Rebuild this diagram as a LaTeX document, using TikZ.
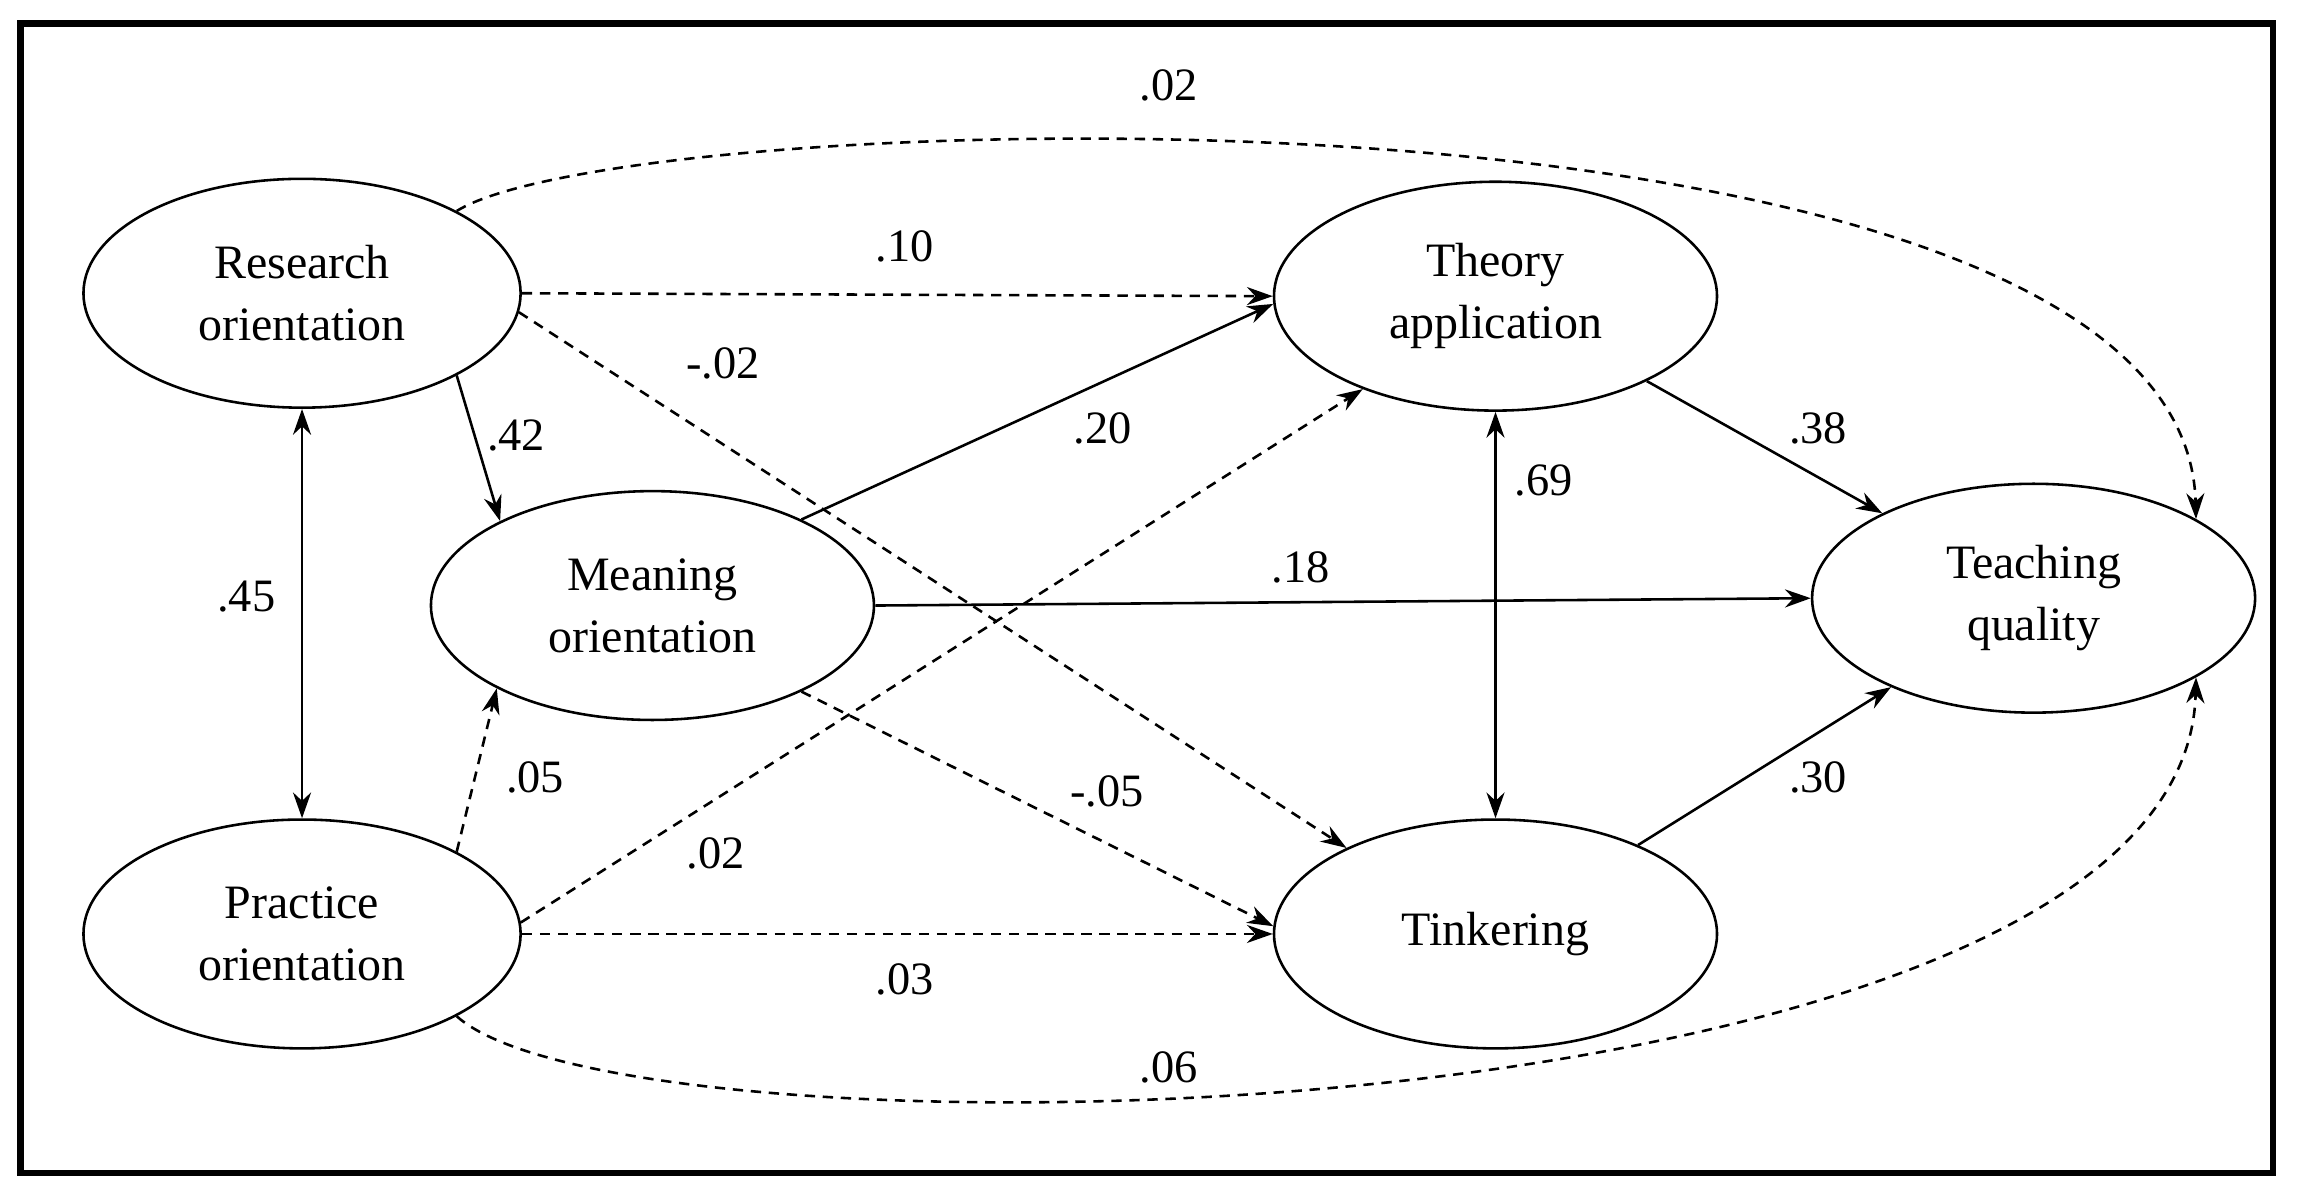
\documentclass[tikz,border=0pt]{standalone}
\usepackage{fontspec}
\setmainfont{Liberation Serif}
\usetikzlibrary{shapes.geometric,arrows.meta}
\begin{document}
\begin{tikzpicture}[x=0.01cm,y=-0.01cm,
  lat/.style={ellipse,draw,line width=0.5pt,minimum width=2.98cm,minimum height=1.56cm,inner sep=0pt,align=center,font=\fontsize{9.3}{12}\selectfont},
  ar/.style={line width=0.5pt,-{Stealth[length=5pt,width=3.5pt]}},
  dar/.style={ar,dash pattern=on 2pt off 1.5pt},
  lab/.style={font=\fontsize{9}{10}\selectfont}]
\useasboundingbox (0,0) rectangle (1568,815);
\draw[line width=1.2pt] (14,16) rectangle (1550,800);
\node[lat] (R) at (206,200) {Research\\orientation};
\node[lat] (P) at (206,637) {Practice\\orientation};
\node[lat,minimum width=3.02cm] (M) at (445,413) {Meaning\\orientation};
\node[lat,minimum width=3.02cm] (T) at (1020,202) {Theory\\application};
\node[lat,minimum width=3.02cm] (K) at (1020,637) {Tinkering};
\node[lat,minimum width=3.02cm] (Q) at (1387,408) {Teaching\\quality};
\draw[dar] (R.0) -- (T.180);
\draw[dar] (R.-5) -- (K.150);
\draw[ar] (R.-28) -- (M.151);
\draw[ar,{Stealth[length=5pt,width=3.5pt]}-{Stealth[length=5pt,width=3.5pt]}] (R) -- (P);
\draw[ar] (M.30) -- (T.182);
\draw[ar] (M.0) -- (Q.180);
\draw[dar] (M.-30) -- (K.178);
\draw[dar] (P.28) -- (M.208);
\draw[dar] (P.3) -- (T.215);
\draw[dar] (P.0) -- (K.180);
\draw[ar,{Stealth[length=5pt,width=3.5pt]}-{Stealth[length=5pt,width=3.5pt]}] (T) -- (K);
\draw[ar] (T) -- (Q);
\draw[ar] (K) -- (Q);
\draw[dar] (R.28) .. controls (430,70) and (1490,40) .. (Q.26);
\draw[dar] (P.-28) .. controls (430,800) and (1490,780) .. (Q.-26);
\node[lab] (l1) at (617,168) {.10};
\node[lab] (l2) at (493,248) {-.02};
\node[lab] (l3) at (352,297) {.42};
\node[lab] (l4) at (168,407) {.45};
\node[lab] (l5) at (752,292) {.20};
\node[lab] (l6) at (887,387) {.18};
\node[lab] (l7) at (755,540) {-.05};
\node[lab] (l8) at (365,530) {.05};
\node[lab] (l9) at (488,582) {.02};
\node[lab] (l10) at (617,668) {.03};
\node[lab] (l11) at (1053,328) {.69};
\node[lab] (l12) at (1240,292) {.38};
\node[lab] (l13) at (1240,530) {.30};
\node[lab] (l14) at (797,58) {.02};
\node[lab] (l15) at (797,728) {.06};
\end{tikzpicture}
\end{document}
